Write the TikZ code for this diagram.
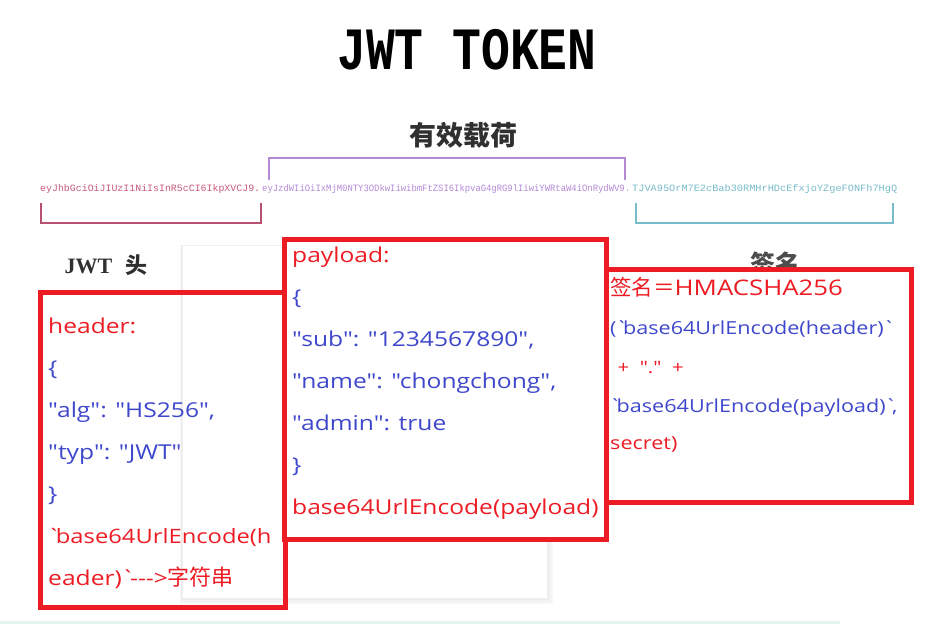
\documentclass[tikz,border=0pt]{standalone}
\usepackage{fontspec}
\usepackage{graphicx}
\newfontfamily\ui{Open Sans}[FakeStretch=1.2]
\newfontfamily\cjk{Noto Sans CJK SC}
\newfontfamily\mono{Liberation Mono}
\newfontfamily\serifb{Liberation Serif}
\newcommand\bq{\kern-1pt`\kern-5pt}
\definecolor{jred}{HTML}{ED1C24}
\definecolor{jblue}{HTML}{3F48CC}
\definecolor{jgray}{HTML}{303030}
\definecolor{jpink}{HTML}{C85A7A}
\definecolor{jpurple}{HTML}{B48AD6}
\definecolor{jteal}{HTML}{78BCCB}
\definecolor{jcrim}{HTML}{B85070}
\definecolor{jline}{HTML}{E4F3EE}
\begin{document}
\begin{tikzpicture}[x=1pt,y=-1pt,
  redbox/.style={draw=jred, line width=5pt},
  rtxt/.style={anchor=base west, inner sep=0pt, text=jred, font=\ui\fontsize{20.5}{24}\selectfont},
  btxt/.style={rtxt, text=jblue},
  rsm/.style={rtxt, font=\ui\fontsize{18}{22}\selectfont},
  bsm/.style={rsm, text=jblue},
  tok/.style={anchor=base west, inner sep=0pt, font=\mono\fontsize{10}{12}\selectfont},
  lbl/.style={text=jgray, inner sep=0pt},
  brk/.style={line width=2pt}]
\useasboundingbox[fill=white] (0,0) rectangle (951,625);
% title
\node[lbl, text=black, font=\mono\bfseries\fontsize{48}{50}\selectfont, yscale=1.25] (title) at (467,50) {JWT TOKEN};
\node[lbl, font=\cjk\bfseries\fontsize{27}{30}\selectfont] (payloadlbl) at (463,135) {有效载荷};
% token string
\node[tok, text=jpink] (t1) at (40,191) {\resizebox{220pt}{7pt}{eyJhbGciOiJIUzI1NiIsInR5cCI6IkpXVCJ9.}};
\node[tok, text=jpurple] (t2) at (262,191) {\resizebox{368pt}{7pt}{eyJzdWIiOiIxMjM0NTY3ODkwIiwibmFtZSI6IkpvaG4gRG9lIiwiYWRtaW4iOnRydWV9.}};
\node[tok, text=jteal] (t3) at (632,191) {\resizebox{265pt}{7pt}{TJVA95OrM7E2cBab30RMHrHDcEfxjoYZgeFONFh7HgQ}};
% brackets
\coordinate (p1) at (269,180); \coordinate (p2) at (269,158); \coordinate (p3) at (625,158); \coordinate (p4) at (625,180);
\draw[brk, draw=jpurple] (p1) -- (p2) -- (p3) -- (p4);
\coordinate (h1) at (41,203); \coordinate (h2) at (41,223); \coordinate (h3) at (261,223); \coordinate (h4) at (261,203);
\draw[brk, draw=jcrim] (h1) -- (h2) -- (h3) -- (h4);
\coordinate (s1) at (636,203); \coordinate (s2) at (636,223); \coordinate (s3) at (893,223); \coordinate (s4) at (893,203);
\draw[brk, draw=jteal] (s1) -- (s2) -- (s3) -- (s4);
% labels
\node[lbl, font=\fontsize{22}{24}\selectfont] (jwthead) at (106,265) {{\serifb\bfseries JWT}\ \ {\cjk\bfseries 头}};
\node[lbl, text=black!70, font=\cjk\bfseries\fontsize{25}{28}\selectfont] (signlbl) at (775,264) {签名};
% bottom line
\coordinate (b1) at (0,622); \coordinate (b2) at (840,622);
\draw[jline, line width=3pt] (b1) -- (b2);
% panel
\foreach \i/\c in {6/3,4/5,2/8}{
  \fill[black!\c] (182-\i*0.3,245) rectangle (547+\i,598+\i);
}
\node[fill=white, draw=black!6, line width=0.6pt, minimum width=365pt, minimum height=353pt, inner sep=0pt, anchor=north west] (panel) at (182,245) {};
% boxes
\node[redbox, minimum width=245pt, minimum height=315pt, inner sep=0pt, anchor=north west] (hbox) at (38,290) {};
\node[redbox, fill=white, minimum width=322pt, minimum height=300pt, inner sep=0pt, anchor=north west] (pbox) at (282,237) {};
\node[redbox, fill=white, minimum width=305pt, minimum height=233pt, inner sep=0pt, anchor=north west] (sbox) at (604,267) {};
% header text
\node[rtxt] (h_l1) at (48,333) {header:};
\node[btxt] (h_l2) at (48,375) {\{};
\node[btxt] (h_l3) at (48,417) {"alg": "HS256",};
\node[btxt] (h_l4) at (48,459) {"typ": "JWT"};
\node[btxt] (h_l5) at (48,501) {\}};
\node[rtxt, font=\ui\fontsize{19.8}{24}\selectfont] (h_l6) at (48,543) {\bq base64UrlEncode(h};
\node[rtxt] (h_l7) at (48,585) {eader)\bq{-}{-}{-}>{\cjk\fontsize{22}{24}\selectfont 字符串}};
% payload text
\node[rtxt] (p_l1) at (292,262) {payload:};
\node[btxt] (p_l2) at (292,304) {\{};
\node[btxt] (p_l3) at (292,346) {"sub": "1234567890",};
\node[btxt] (p_l4) at (292,388) {"name": "chongchong",};
\node[btxt] (p_l5) at (292,430) {"admin": true};
\node[btxt] (p_l6) at (292,472) {\}};
\node[rtxt] (p_l7) at (292,514) {base64UrlEncode(payload)};
% signature text
\node[rtxt, font=\ui\fontsize{21.5}{24}\selectfont] (s_l1) at (610,295) {{\cjk 签名＝}HMACSHA256};
\node[bsm] (s_l2) at (610,334) {(\bq base64UrlEncode(header)\bq};
\node[rsm, font=\ui\fontsize{17}{20}\selectfont] (s_l3) at (612,373) {\ + \ "." \ +};
\node[bsm] (s_l4) at (610,412) {\bq base64UrlEncode(payload)\bq,};
\node[rsm] (s_l5) at (610,449) {secret)};
\end{tikzpicture}
\end{document}
